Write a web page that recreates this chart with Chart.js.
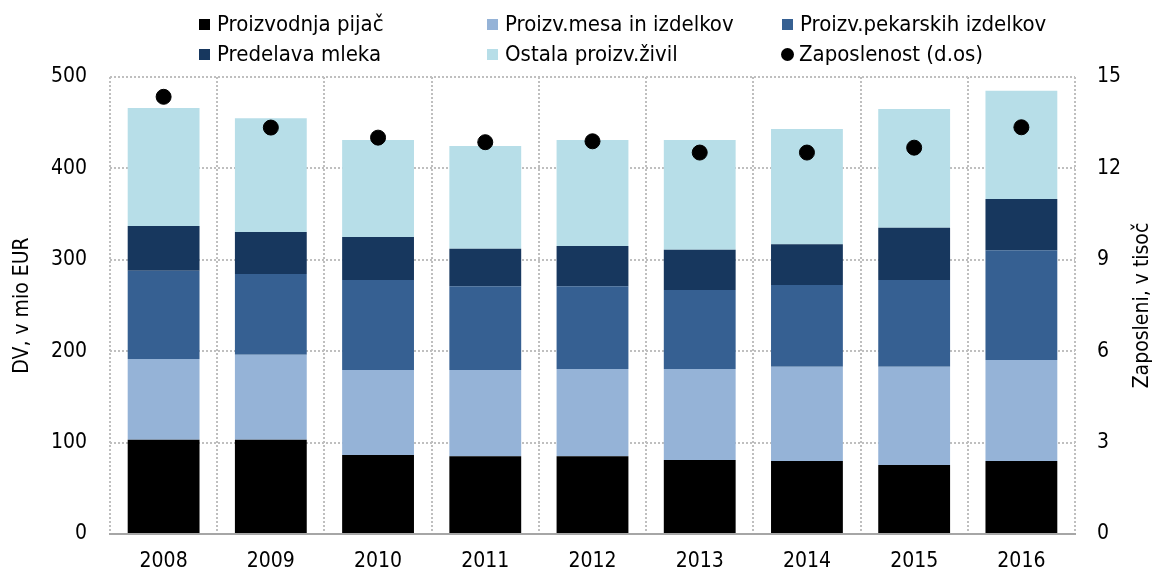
<!DOCTYPE html>
<html>
<head>
<meta charset="utf-8">
<script src="https://cdn.jsdelivr.net/npm/chart.js@4.4.1/dist/chart.umd.min.js"></script>
<style>
  html, body { margin: 0; padding: 0; background: #fff; }
  #wrap { position: relative; width: 1156px; height: 574px; }
  #legend .item {
    position: absolute; display: flex; align-items: center; white-space: nowrap;
    font: 22px 'Liberation Sans Narrow', 'DejaVu Sans Condensed', sans-serif; color: #000; line-height: 1;
  }
  #legend .sw { width: 11px; height: 11px; margin-right: 7px; }
  #legend .dot { width: 13px; height: 13px; border-radius: 50%; margin-right: 5px; }
</style>
</head>
<body>
<div id="wrap">
  <canvas id="chart" width="1156" height="574"></canvas>
  <div id="legend"></div>
</div>
<script>
// ── DATA ──
const YEARS       = ['2008', '2009', '2010', '2011', '2012', '2013', '2014', '2015', '2016'];
const PIJACE      = [103, 103, 86.5, 85, 85, 81, 80, 75.5, 80];          // Proizvodnja pijač
const MESO        = [88.5, 93, 93, 94.5, 95.5, 99.5, 103, 107.5, 110.5];   // Proizv.mesa in izdelkov
const PEKARSKI    = [96.5, 88.5, 98.5, 91.5, 90.5, 86.5, 89.5, 95, 120];   // Proizv.pekarskih izdelkov
const MLEKO       = [49, 46, 47, 41, 44, 44, 44.5, 57, 56];                // Predelava mleka
const OSTALO      = [129, 124.5, 106, 112.5, 116, 120, 126, 130, 118.5];   // Ostala proizv.živil
const ZAPOSLENOST = [14.35, 13.34, 13.01, 12.86, 12.89, 12.52, 12.52, 12.68, 13.35]; // d.os, tisoč

const LEFT_TICKS  = [0, 100, 200, 300, 400, 500];
const RIGHT_TICKS = [0, 3, 6, 9, 12, 15];
const LEFT_TITLE  = 'DV, v mio EUR';
const RIGHT_TITLE = 'Zaposleni, v tisoč';

const FONT = "'Liberation Sans Narrow', 'DejaVu Sans Condensed', sans-serif";
const GRID = '#BFBFBF';

Chart.defaults.font.family = FONT;
Chart.defaults.color = '#000';

const BARS = [
  { label: 'Proizvodnja pijač',         data: PIJACE,   color: '#000000' },
  { label: 'Proizv.mesa in izdelkov',   data: MESO,     color: '#95B3D7' },
  { label: 'Proizv.pekarskih izdelkov', data: PEKARSKI, color: '#366092' },
  { label: 'Predelava mleka',           data: MLEKO,    color: '#17375E' },
  { label: 'Ostala proizv.živil',       data: OSTALO,   color: '#B7DEE8' }
];
const DOT_LABEL = 'Zaposlenost (d.os)';

// ── right axis title (reads bottom-to-top like the left one) ──
const rightTitle = {
  id: 'rightTitle',
  afterDraw(chart) {
    const { ctx, chartArea } = chart;
    ctx.save();
    ctx.translate(1143, (chartArea.top + chartArea.bottom) / 2);
    ctx.rotate(-Math.PI / 2);
    ctx.font = '21px ' + FONT;
    ctx.fillStyle = '#000';
    ctx.textAlign = 'center';
    ctx.textBaseline = 'middle';
    ctx.fillText(RIGHT_TITLE, 0, 0);
    ctx.restore();
  }
};

const tickFont = { size: 21 };

new Chart(document.getElementById('chart'), {
  type: 'bar',
  data: {
    labels: YEARS,
    datasets: [
      {
        type: 'line', label: DOT_LABEL, data: ZAPOSLENOST, yAxisID: 'y1', order: 0,
        showLine: false, pointRadius: 7.5, pointHoverRadius: 7.5,
        pointBackgroundColor: '#000', pointBorderColor: '#000', borderColor: '#000'
      },
      ...BARS.map(b => ({
        label: b.label, data: b.data, backgroundColor: b.color, yAxisID: 'y', order: 1,
        stack: 'dv', barPercentage: 0.67, categoryPercentage: 1, borderWidth: 0
      }))
    ]
  },
  options: {
    responsive: false,
    animation: false,
    layout: { padding: { top: 77, left: 0, right: 0, bottom: 0 } },
    plugins: { legend: { display: false }, tooltip: { enabled: false } },
    scales: {
      x: {
        stacked: true, offset: true,
        grid: { offset: true, color: GRID, lineWidth: 2, drawTicks: false },
        border: { display: true, color: '#A6A6A6', width: 2, dash: [2, 2] },
        ticks: { font: tickFont, padding: 15 },
        afterFit: s => { s.height = 40; }
      },
      y: {
        stacked: true, min: 0, max: 500,
        afterBuildTicks: s => { s.ticks = LEFT_TICKS.map(v => ({ value: v })); },
        grid: { color: GRID, lineWidth: 2, drawTicks: false },
        border: { display: false, dash: [2, 2] },
        ticks: { font: tickFont, padding: 23 },
        title: { display: true, text: LEFT_TITLE, font: { size: 21 }, padding: { top: 10, bottom: 0 } },
        afterFit: s => { s.width = 110; }
      },
      y1: {
        position: 'right', min: 0, max: 15,
        afterBuildTicks: s => { s.ticks = RIGHT_TICKS.map(v => ({ value: v })); },
        grid: { display: false, drawTicks: false },
        border: { display: false },
        ticks: { font: tickFont, padding: 22 },
        afterFit: s => { s.width = 81; }
      }
    }
  },
  plugins: [rightTitle]
});

// ── HTML legend, 3 columns x 2 rows ──
const LEG_X = [199, 487, 782];
const LEG_Y = [24, 54];
const legendItems = [...BARS.map(b => ({ label: b.label, color: b.color, dot: false })),
                     { label: DOT_LABEL, color: '#000', dot: true }];
const legend = document.getElementById('legend');
legendItems.forEach((it, i) => {
  const el = document.createElement('div');
  el.className = 'item';
  const mark = document.createElement('span');
  mark.className = it.dot ? 'dot' : 'sw';
  mark.style.background = it.color;
  if (it.dot) mark.style.marginLeft = '-1px';
  const txt = document.createElement('span');
  txt.textContent = it.label;
  el.appendChild(mark);
  el.appendChild(txt);
  el.style.left = LEG_X[i % 3] + 'px';
  el.style.top = (LEG_Y[Math.floor(i / 3)] - 12) + 'px';
  el.style.height = '24px';
  legend.appendChild(el);
});
</script>
</body>
</html>
